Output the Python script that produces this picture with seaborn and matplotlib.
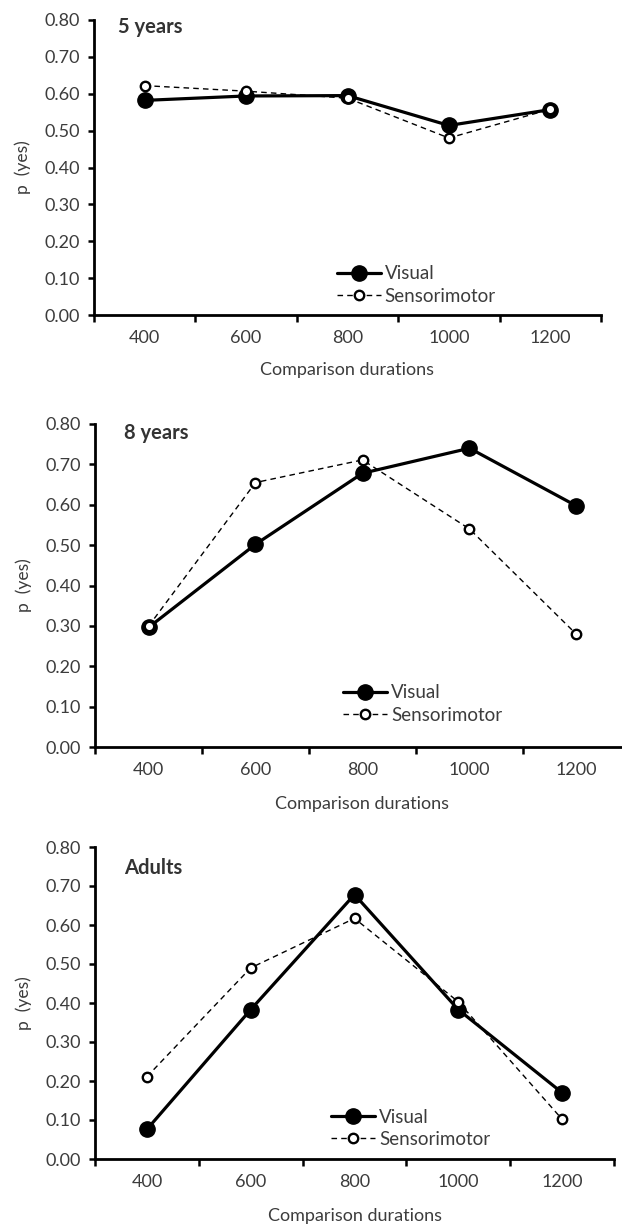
import matplotlib
matplotlib.use("Agg")
import matplotlib.pyplot as plt
import seaborn as sns
import pandas as pd
from matplotlib.ticker import FixedLocator, FormatStrFormatter

# Comparison durations (ms) shared by every panel
durations = [400, 600, 800, 1000, 1200]

# Proportion of "yes" responses per group and condition
visual_5y = [0.582, 0.594, 0.595, 0.514, 0.557]
sensori_5y = [0.622, 0.607, 0.588, 0.480, 0.558]

visual_8y = [0.296, 0.502, 0.678, 0.740, 0.597]
sensori_8y = [0.299, 0.655, 0.711, 0.540, 0.279]

visual_adult = [0.076, 0.383, 0.678, 0.383, 0.170]
sensori_adult = [0.211, 0.490, 0.617, 0.403, 0.102]

panel_titles = ["5 years", "8 years", "Adults"]
y_ticks = [0.0, 0.1, 0.2, 0.3, 0.4, 0.5, 0.6, 0.7, 0.8]

sns.set_style("ticks")
plt.rcParams["font.family"] = ["Lato", "DejaVu Sans"]

W, H = 622, 1225
fig = plt.figure(figsize=(W / 100, H / 100), dpi=100)

TXT = "#3c3c3c"


def px_axes(left, right, top, bottom):
    return fig.add_axes([left / W, 1 - bottom / H, (right - left) / W, (bottom - top) / H])


panels = [
    dict(box=(94, 601, 20, 315), vis=visual_5y, sen=sensori_5y,
         title_xy=(0.047, 0.975), leg=(0.479, 0.035), xlpad=11),
    dict(box=(95, 630, 424, 747), vis=visual_8y, sen=sensori_8y,
         title_xy=(0.054, 0.972), leg=(0.464, 0.072), xlpad=13),
    dict(box=(95, 614, 847, 1159), vis=visual_adult, sen=sensori_adult,
         title_xy=(0.056, 0.933), leg=(0.455, 0.036), xlpad=12.5),
]

for title, p in zip(panel_titles, panels):
    ax = px_axes(*p["box"])
    df = pd.DataFrame({"duration": durations, "Visual": p["vis"], "Sensorimotor": p["sen"]})

    sns.lineplot(data=df, x="duration", y="Visual", ax=ax, color="black",
                 linewidth=2.3, marker="o", markersize=11, markeredgewidth=1,
                 markerfacecolor="black", markeredgecolor="black",
                 label="Visual", clip_on=False, zorder=3)
    sns.lineplot(data=df, x="duration", y="Sensorimotor", ax=ax, color="black",
                 linewidth=1.0, linestyle=(0, (4, 3)), marker="o", markersize=6.8,
                 markeredgewidth=1.7, markerfacecolor="white",
                 markeredgecolor="black", label="Sensorimotor",
                 clip_on=False, zorder=4)

    ax.set_xlim(300, 1300)
    ax.set_ylim(0, 0.8)
    ax.set_yticks(y_ticks)
    ax.yaxis.set_major_formatter(FormatStrFormatter("%.2f"))
    ax.set_xticks(durations)
    ax.xaxis.set_minor_locator(FixedLocator([300, 500, 700, 900, 1100, 1300]))

    ax.tick_params(axis="x", which="major", length=0, pad=11,
                   labelsize=13, labelcolor=TXT)
    ax.tick_params(axis="x", which="minor", length=5, width=1.8,
                   direction="out", color="black")
    ax.tick_params(axis="y", length=4, width=1.8, direction="out",
                   labelsize=13, labelcolor=TXT, pad=6, color="black")

    for side in ("top", "right"):
        ax.spines[side].set_visible(False)
    for side in ("left", "bottom"):
        ax.spines[side].set_linewidth(2.0)
        ax.spines[side].set_color("black")

    ax.set_ylabel("p  (yes)", fontsize=12.5, color=TXT, labelpad=10)
    ax.set_xlabel("Comparison durations", fontsize=13, color=TXT,
                  labelpad=p["xlpad"])

    ax.text(*p["title_xy"], title, transform=ax.transAxes, fontsize=14.5,
            fontweight="bold", color="#333333", ha="left", va="center")

    ax.legend(loc="lower left", bbox_to_anchor=p["leg"], frameon=False,
              fontsize=13.5, handlelength=2.35, handletextpad=0.2,
              labelspacing=0.28, borderpad=0, borderaxespad=0,
              labelcolor=TXT)

fig.savefig("out.png", dpi=100)
